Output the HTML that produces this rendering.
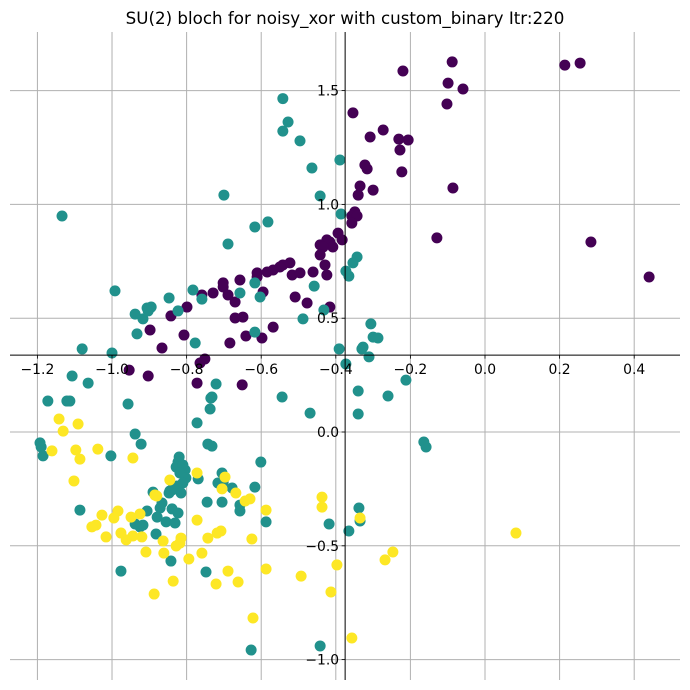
<!DOCTYPE html>
<html><head><meta charset="utf-8"><style>
html,body{margin:0;padding:0;background:#fff;}
svg{display:block;font-family:"DejaVu Sans","Liberation Sans",sans-serif;}
</style></head><body>
<svg id="chart" width="690" height="690">
<text x="345" y="24" text-anchor="middle" font-size="16.7" fill="#000">SU(2) bloch for noisy_xor with custom_binary Itr:220</text>
<g id="grid"></g>
<g id="pts"></g>
<g id="axes"></g>
</svg>
<script>
const xTicks=[-1.2,-1.0,-0.8,-0.6,-0.4,-0.2,0.0,0.2,0.4];
const xTickLabels=["−1.2","−1.0","−0.8","−0.6","−0.4","−0.2","0.0","0.2","0.4"];
const yTicks=[-1.0,-0.5,0.0,0.5,1.0,1.5];
const yTickLabels=["−1.0","−0.5","0.0","0.5","1.0","1.5"];
const classColors=["#440154","#21918c","#fde725"];
const purpleX=[0.214,0.255,-0.088,-0.099,-0.059,-0.102,-0.220,-0.273,-0.308,-0.231,-0.206,-0.228,-0.223,-0.354,-0.316,-0.322,-0.335,-0.340,-0.300,-0.086,-0.129,0.440,0.284,-0.349,-0.357,-0.343,-0.357,-0.394,-0.383,-0.416,-0.424,-0.442,-0.408,-0.434,-0.442,-0.429,-0.424,-0.461,-0.416,-0.523,-0.542,-0.550,-0.568,-0.584,-0.517,-0.496,-0.611,-0.611,-0.657,-0.702,-0.702,-0.729,-0.759,-0.689,-0.670,-0.595,-0.509,-0.477,-0.799,-0.842,-0.670,-0.649,-0.568,-0.641,-0.684,-0.598,-0.807,-0.866,-0.898,-0.764,-0.751,-0.772,-0.651,-0.903,-0.954];
const purpleY=[1.612,1.621,1.626,1.533,1.507,1.441,1.586,1.327,1.296,1.287,1.283,1.239,1.143,1.402,1.156,1.173,1.081,1.041,1.063,1.072,0.853,0.681,0.835,0.967,0.949,0.949,0.918,0.874,0.844,0.835,0.844,0.822,0.813,0.813,0.778,0.734,0.690,0.703,0.549,0.743,0.734,0.725,0.712,0.703,0.690,0.699,0.699,0.681,0.668,0.655,0.637,0.611,0.602,0.602,0.571,0.615,0.593,0.567,0.549,0.510,0.501,0.505,0.461,0.422,0.391,0.413,0.426,0.369,0.448,0.303,0.321,0.215,0.207,0.246,0.272];
const tealX=[-0.542,-0.528,-0.542,-0.496,-0.464,-0.389,-0.442,-0.700,-1.134,-0.582,-0.617,-0.689,-0.386,-0.343,-0.354,-0.373,-0.365,-0.458,-0.617,-0.603,-0.657,-0.992,-0.783,-0.759,-0.847,-0.823,-0.938,-0.917,-0.906,-0.895,-0.903,-0.432,-0.488,-0.933,-0.777,-0.617,-1.0,-0.391,-0.373,-0.306,-0.300,-0.287,-0.327,-0.330,-0.311,-0.721,-0.732,-0.544,-0.340,-0.260,-1.080,-1.107,-1.064,-1.172,-1.121,-1.113,-0.957,-0.735,-0.737,-0.772,-0.469,-0.938,-0.922,-1.193,-1.190,-1.185,-1.003,-0.743,-0.732,-0.601,-0.820,-0.823,-0.828,-0.810,-0.804,-0.818,-0.802,-0.810,-0.826,-0.839,-0.847,-0.769,-0.705,-0.716,-0.702,-0.678,-0.617,-0.890,-0.845,-0.836,-0.815,-0.866,-0.871,-0.839,-0.823,-0.906,-0.879,-0.855,-0.831,-0.938,-0.925,-0.917,-0.882,-0.842,-0.976,-1.086,-0.745,-0.705,-0.657,-0.657,-0.587,-0.748,-0.627,-0.442,-0.418,-0.338,-0.335,-0.365,-0.164,-0.158,-0.212,-0.340];
const tealY=[1.465,1.362,1.322,1.279,1.160,1.195,1.037,1.041,0.949,0.923,0.901,0.826,0.958,0.769,0.743,0.707,0.685,0.641,0.655,0.593,0.611,0.620,0.624,0.584,0.589,0.532,0.518,0.497,0.545,0.549,0.532,0.536,0.497,0.431,0.391,0.439,0.347,0.365,0.299,0.475,0.417,0.413,0.373,0.365,0.330,0.211,0.154,0.154,0.180,0.158,0.365,0.246,0.215,0.136,0.136,0.136,0.123,0.149,0.101,0.040,0.083,-0.009,-0.053,-0.048,-0.066,-0.105,-0.105,-0.053,-0.062,-0.132,-0.110,-0.132,-0.154,-0.145,-0.167,-0.180,-0.202,-0.224,-0.237,-0.255,-0.268,-0.206,-0.180,-0.224,-0.220,-0.246,-0.242,-0.264,-0.259,-0.246,-0.268,-0.312,-0.334,-0.338,-0.356,-0.347,-0.374,-0.395,-0.400,-0.404,-0.417,-0.409,-0.448,-0.567,-0.611,-0.343,-0.308,-0.308,-0.321,-0.347,-0.395,-0.615,-0.958,-0.940,-0.404,-0.334,-0.391,-0.435,-0.044,-0.066,0.228,0.079];
const yellowX=[-1.142,-1.131,-1.091,-1.161,-1.097,-1.086,-1.102,-1.038,-0.944,-0.845,-0.772,-0.697,-0.705,-0.668,-0.643,-0.630,-0.587,-0.885,-0.880,-0.437,-0.437,-0.397,-0.413,-0.493,-0.587,-0.622,-0.625,-0.662,-0.689,-0.721,-0.708,-0.718,-0.743,-0.759,-0.794,-0.772,-0.815,-0.818,-0.828,-0.836,-0.863,-0.861,-0.887,-0.909,-0.920,-0.944,-0.962,-0.976,-0.949,-0.925,-0.984,-0.995,-1.027,-1.016,-1.043,-1.054,0.083,-0.247,-0.268,-0.357,-0.335];
const yellowY=[0.057,0.004,0.035,-0.083,-0.079,-0.119,-0.215,-0.075,-0.114,-0.211,-0.180,-0.198,-0.250,-0.268,-0.303,-0.294,-0.343,-0.277,-0.281,-0.286,-0.330,-0.584,-0.703,-0.633,-0.602,-0.817,-0.470,-0.659,-0.611,-0.668,-0.435,-0.444,-0.466,-0.532,-0.558,-0.387,-0.466,-0.488,-0.501,-0.655,-0.479,-0.532,-0.712,-0.527,-0.461,-0.457,-0.474,-0.444,-0.374,-0.360,-0.347,-0.378,-0.365,-0.461,-0.409,-0.417,-0.444,-0.527,-0.562,-0.905,-0.378];
const NS="http://www.w3.org/2000/svg";
const L=10,R=680,T=32,B=680;
const xMin=-1.2735,xMax=0.5228,yMin=-1.0896,yMax=1.7575;
function sx(v){return L+(v-xMin)/(xMax-xMin)*(R-L);}
function sy(v){return B-(v-yMin)/(yMax-yMin)*(B-T);}
function mk(tag,attrs,parent){const e=document.createElementNS(NS,tag);for(const k in attrs)e.setAttribute(k,attrs[k]);parent.appendChild(e);return e;}
const grid=document.getElementById('grid'),pts=document.getElementById('pts'),axes=document.getElementById('axes');
const ax0=sx(-0.375),ay0=sy(0.338);
xTicks.forEach((t,i)=>{
  const g=mk('line',{x1:sx(t),x2:sx(t),y1:T,y2:B,stroke:'#b0b0b0','stroke-width':1},grid);
  
  
  const tk=mk('line',{x1:sx(t),x2:sx(t),y1:ay0,y2:ay0+3.5,stroke:'#000','stroke-width':0.8},axes);
  
  
  const tx=mk('text',{x:sx(t),y:ay0+19,'text-anchor':'middle','font-size':13.9,fill:'#000'},axes);
  tx.textContent=xTickLabels[i];
  
  
});
yTicks.forEach((t,i)=>{
  const g=mk('line',{x1:L,x2:R,y1:sy(t),y2:sy(t),stroke:'#b0b0b0','stroke-width':1},grid);
  
  
  const tk=mk('line',{x1:ax0-3.5,x2:ax0,y1:sy(t),y2:sy(t),stroke:'#000','stroke-width':0.8},axes);
  
  
  const tx=mk('text',{x:ax0-6,y:sy(t)+5,'text-anchor':'end','font-size':13.9,fill:'#000'},axes);
  tx.textContent=yTickLabels[i];
  
  
});
function drawSeries(xs,ys,color,name){
  xs.forEach((x,i)=>{
    const c=mk('circle',{cx:sx(x),cy:sy(ys[i]),r:5.5,fill:color},pts);
    
    
  });
}
drawSeries(purpleX,purpleY,classColors[0],'point-class-0');
drawSeries(tealX,tealY,classColors[1],'point-class-1');
drawSeries(yellowX,yellowY,classColors[2],'point-class-2');
const xs=mk('line',{x1:L,x2:R,y1:ay0,y2:ay0,stroke:'#000','stroke-width':1},axes);


const ys=mk('line',{x1:ax0,x2:ax0,y1:T,y2:B,stroke:'#000','stroke-width':1},axes);


</script>
</body></html>
